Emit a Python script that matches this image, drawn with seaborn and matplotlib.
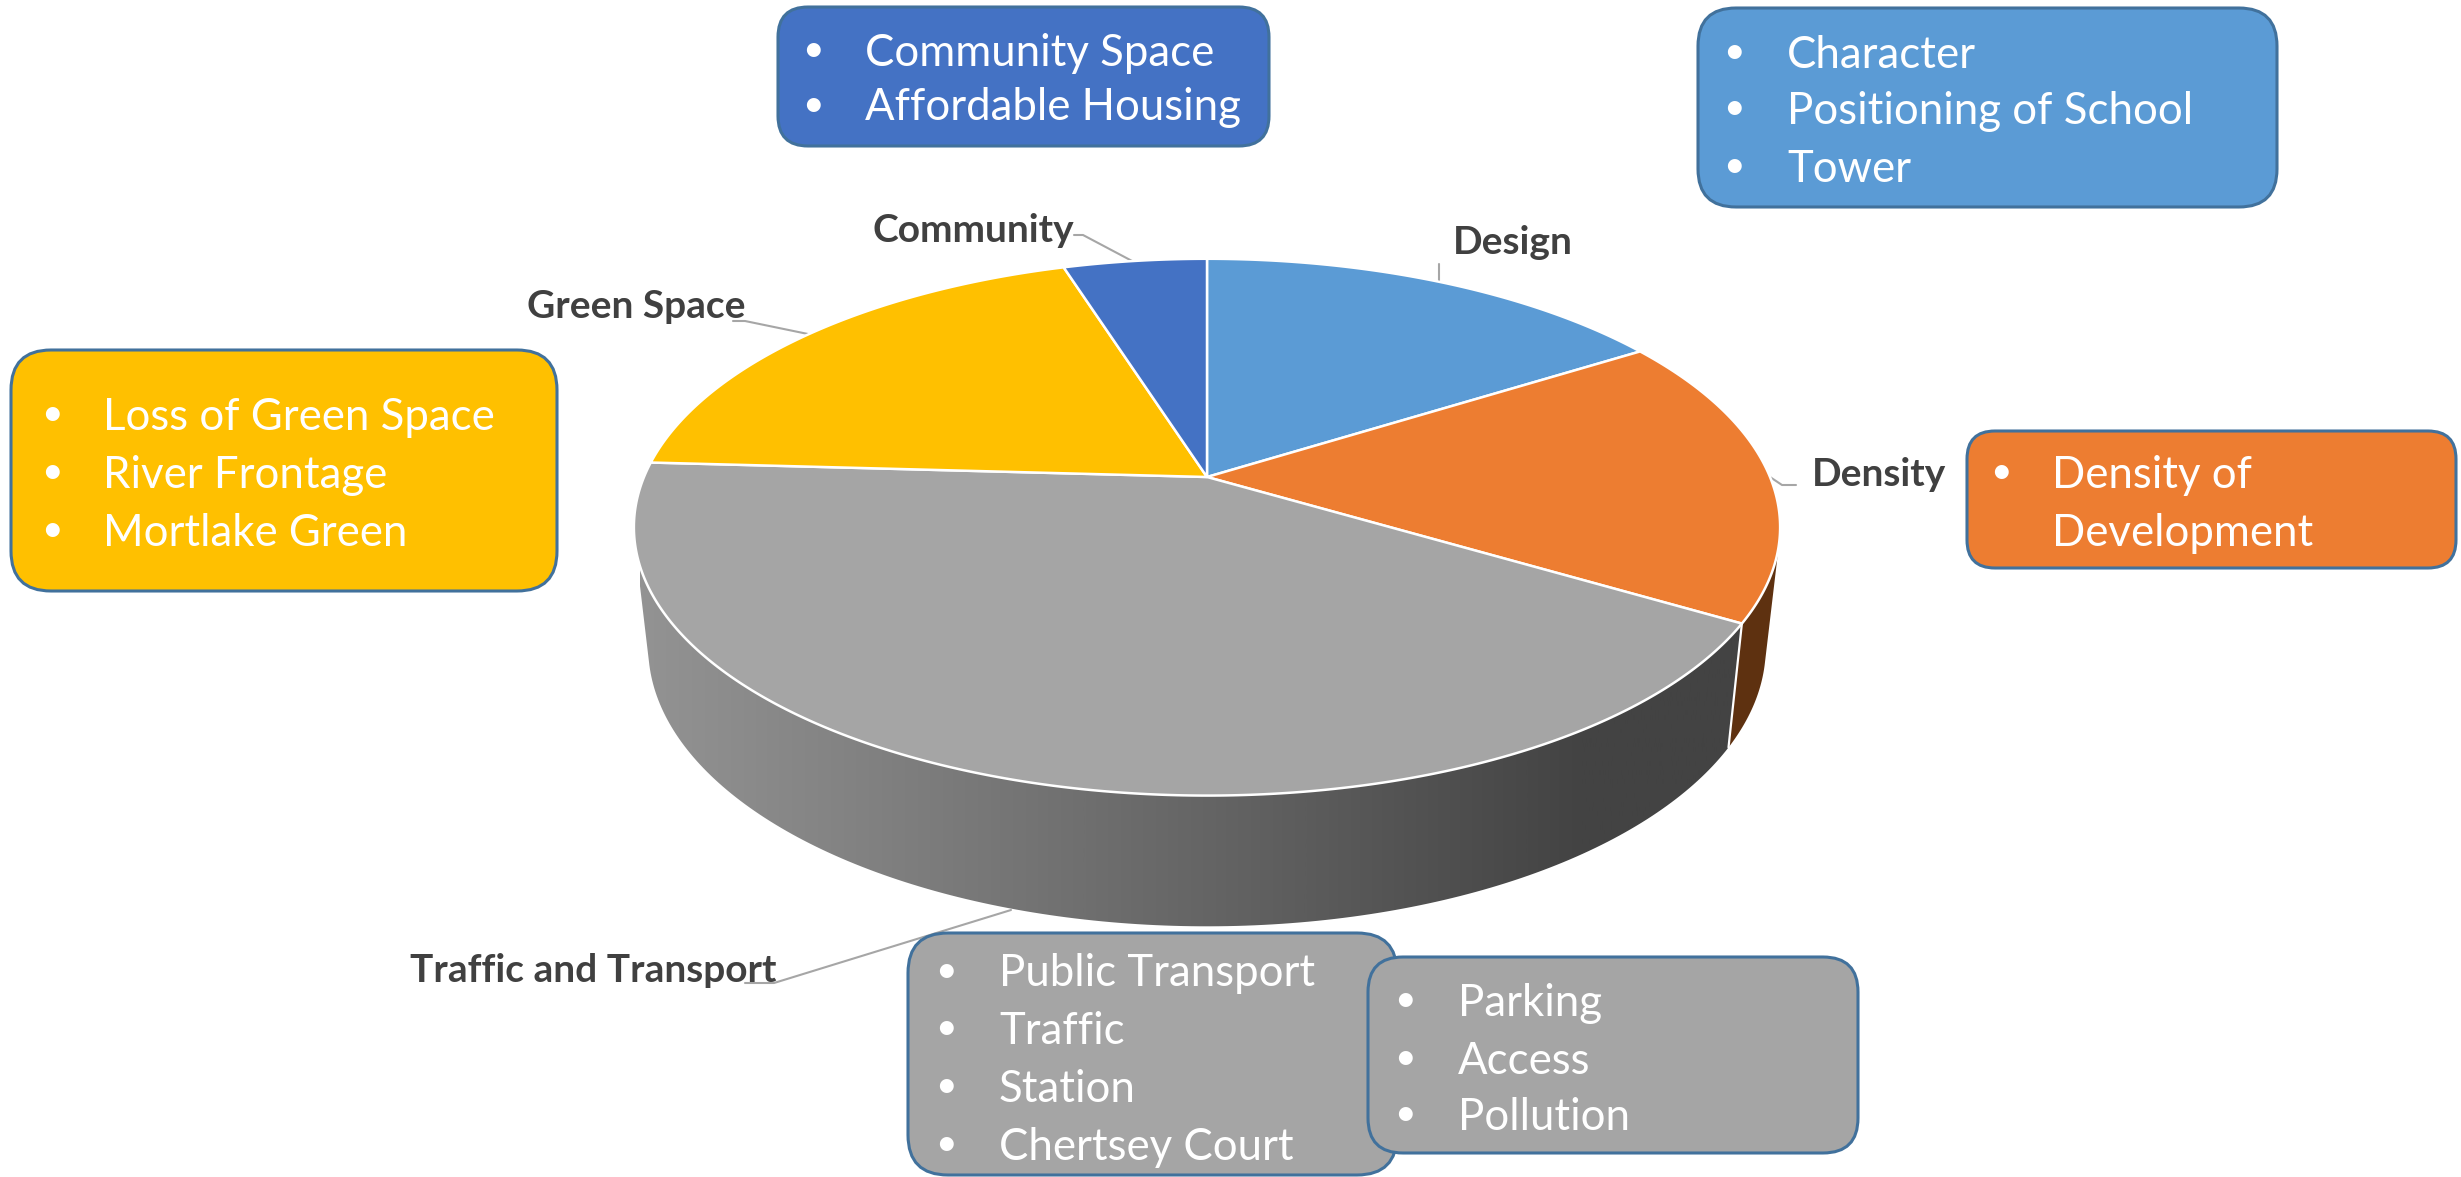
import numpy as np
import matplotlib
matplotlib.use("Agg")
import matplotlib.pyplot as plt
from matplotlib.patches import FancyBboxPatch, Polygon
from matplotlib.colors import LinearSegmentedColormap
import seaborn as sns

categories = ["Design", "Density", "Traffic and Transport", "Green Space", "Community"]
values = [16.05, 17.5, 42.35, 19.25, 4.85]
hex_colours = ["#5B9BD5", "#ED7D31", "#A5A5A5", "#FFC000", "#4472C4"]

community_items = ["Community Space", "Affordable Housing"]
design_items = ["Character", "Positioning of School", "Tower"]
density_items = ["Density of", "Development"]
green_items = ["Loss of Green Space", "River Frontage", "Mortlake Green"]
traffic_items_a = ["Public Transport", "Traffic", "Station", "Chertsey Court"]
traffic_items_b = ["Parking", "Access", "Pollution"]

W, H = 2461, 1177
sns.set_theme(style="white")
plt.rcParams["font.family"] = ["Lato", "DejaVu Sans"]
palette = sns.color_palette(hex_colours)

fig = plt.figure(figsize=(W / 100, H / 100), dpi=100)
ax = fig.add_axes([0, 0, 1, 1])
ax.set_xlim(0, W)
ax.set_ylim(H, 0)
ax.axis("off")

CX, CY, A, B, K = 1207, 477, 563, 259, 0.187
SCALE_X, SCALE_Y, DROP = 0.975, 1.04, 118


def top_face(theta):
    u, v = np.sin(theta), -np.cos(theta)
    w = 1 - K * v
    return CX + A * u / w, CY + B * v / w


def bottom_face(theta):
    x, y = top_face(theta)
    return CX + SCALE_X * (x - CX), CY + SCALE_Y * (y - CY) + DROP


fractions = np.asarray(values) / np.sum(values)
edges = 2 * np.pi * np.concatenate([[0], np.cumsum(fractions)])


def hull(points):
    pts = sorted(map(tuple, points))

    def half(seq):
        out = []
        for p in seq:
            while len(out) > 1 and (out[-1][0] - out[-2][0]) * (p[1] - out[-2][1]) - \
                    (out[-1][1] - out[-2][1]) * (p[0] - out[-2][0]) <= 0:
                out.pop()
            out.append(p)
        return out[:-1]

    return np.array(half(pts) + half(pts[::-1]))


def side_poly(t0, t1):
    th = np.linspace(t0, t1, 200)
    xt, yt = top_face(th)
    xb, yb = bottom_face(th)
    return hull(np.column_stack([np.r_[xt, xb], np.r_[yt, yb]]))


# side walls
orange_dark = "#5E3110"
ax.add_patch(Polygon(side_poly(np.radians(80), edges[2]), closed=True, fc=orange_dark, ec="none", zorder=1))
grey_side = Polygon(side_poly(edges[2], edges[3]), closed=True, fc="none", ec="none", zorder=2)
ax.add_patch(grey_side)
cmap = LinearSegmentedColormap.from_list(
    "side", [(0, "#939393"), (0.25, "#7d7d7d"), (0.55, "#616161"), (0.85, "#434343"), (1, "#434343")]
)
img = ax.imshow(np.linspace(0, 1, 512)[None, :], extent=(640, 1750, H, 0), cmap=cmap, aspect="auto",
                vmin=0, vmax=1, zorder=2)
img.set_clip_path(grey_side)
ax.set_xlim(0, W)
ax.set_ylim(H, 0)

# white seam between the grey and the orange wall
x0, y0 = top_face(edges[2])
x1, y1 = bottom_face(edges[2])
ax.plot([x0, x1], [y0, y1], color="white", lw=1.6, zorder=3)

# top face
for t0, t1, col in zip(edges[:-1], edges[1:], palette):
    th = np.linspace(t0, t1, 300)
    xs, ys = top_face(th)
    ax.add_patch(Polygon(np.column_stack([np.r_[CX, xs], np.r_[CY, ys]]), closed=True,
                         fc=col, ec="white", lw=1.8, joinstyle="round", zorder=4))

# leader lines
leaders = [
    ([1439, 1439], [264, 283]),
    ([1767, 1782, 1796], [475, 485, 485]),
    ([745, 774, 1011], [983, 983, 910]),
    ([733, 745, 808], [321, 321, 334]),
    ([1074, 1083, 1134], [235, 235, 262]),
]
for xs, ys in leaders:
    ax.plot(xs, ys, color="#A6A6A6", lw=1.5, zorder=3.5)

# category labels
label_pos = [(1513, 243), (1879, 475), (593, 970), (636, 306), (973, 231)]
for name, (x, y) in zip(categories, label_pos):
    ax.text(x, y, name, ha="center", va="center", fontsize=28, fontweight="bold", color="#404040", zorder=6)


def note(box, colour, items, bx, tx, ys, rad):
    x0, y0, x1, y1 = box
    ax.add_patch(FancyBboxPatch((x0 + rad, y0 + rad), x1 - x0 - 2 * rad, y1 - y0 - 2 * rad,
                                boxstyle=f"round,pad={rad},rounding_size={rad}",
                                fc=colour, ec="#41719C", lw=2.2, zorder=7))
    for i, (item, y) in enumerate(zip(items, ys)):
        if not (items is density_items and i == 1):
            ax.text(bx, y, "\u2022", ha="center", va="center", fontsize=27, color="white", zorder=8)
        ax.text(tx, y + 3, item, ha="left", va="center", fontsize=31.5, color="white", zorder=8)


note((778, 7, 1269, 146), palette[4], community_items, 813, 865, [50, 105], 30)
note((1698, 8, 2277, 207), palette[0], design_items, 1734, 1787, [52, 108, 166], 38)
note((1967, 431, 2456, 568), palette[1], density_items, 2001, 2052, [472, 530], 28)
note((11, 350, 557, 591), palette[3], green_items, 52, 103, [414, 472, 530], 40)
note((908, 933, 1397, 1175), palette[2], traffic_items_a, 946, 999, [971, 1028, 1086, 1144], 40)
note((1368, 957, 1858, 1153), palette[2], traffic_items_b, 1405, 1458, [1000, 1058, 1114], 35)

sns.despine(ax=ax, left=True, bottom=True)
fig.savefig("out.png", dpi=100, facecolor="white")
